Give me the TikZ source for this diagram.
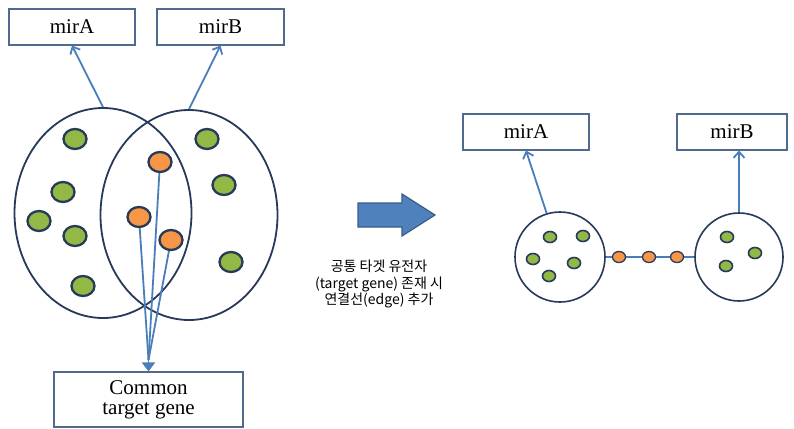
\documentclass[tikz,border=0pt]{standalone}
\usepackage{fontspec}
\setmainfont{Liberation Serif}
\newfontfamily\kr{Noto Sans CJK KR}
\usetikzlibrary{shapes.geometric,arrows.meta}
\definecolor{boxline}{RGB}{80,105,140}
\definecolor{navy}{RGB}{40,58,90}
\definecolor{arrowblue}{RGB}{74,126,187}
\definecolor{dotgreen}{RGB}{146,184,70}
\definecolor{dotorange}{RGB}{247,150,70}
\definecolor{bigfill}{RGB}{79,129,189}
\definecolor{bigedge}{RGB}{56,93,138}
\tikzset{
  labelbox/.style={draw=boxline, line width=1.1pt, fill=white, inner sep=0pt,
    font=\fontsize{21}{20}\selectfont, align=center},
  venn/.style={ellipse, draw=navy, line width=1.8pt, minimum width=177pt, minimum height=210pt, inner sep=0pt},
  ring/.style={circle, draw=navy, line width=1.6pt, inner sep=0pt},
  gdot/.style={ellipse, draw=navy, line width=2.3pt, fill=dotgreen, minimum width=23pt, minimum height=20pt, inner sep=0pt},
  odot/.style={ellipse, draw=navy, line width=2.3pt, fill=dotorange, minimum width=23pt, minimum height=20pt, inner sep=0pt},
  sgdot/.style={ellipse, draw=navy, line width=1.6pt, fill=dotgreen, minimum width=13pt, minimum height=11pt, inner sep=0pt},
  sodot/.style={ellipse, draw=navy, line width=1.3pt, fill=dotorange, minimum width=13pt, minimum height=11pt, inner sep=0pt},
  openarrow/.style={draw=arrowblue, line width=1.8pt, -{Straight Barb[length=6pt,width=11pt]}},
  link/.style={draw=arrowblue, line width=1.8pt}
}
\begin{document}
\begin{tikzpicture}[x=1pt,y=-1pt]
\useasboundingbox (0,0) rectangle (794,428);
\fill[white] (0,0) rectangle (794,428);

% left part
\node[labelbox, minimum width=126pt, minimum height=36pt] (mirA) at (72,27) {mirA};
\node[labelbox, minimum width=127pt, minimum height=36pt] (mirB) at (220.5,27) {mirB};
\node[venn] (ellA) at (103,213) {};
\node[venn] (ellB) at (189,215) {};
\draw[openarrow] (ellA.north) -- (mirA.south);
\draw[openarrow] (ellB.north) -- (mirB.south);

\node[gdot] (g1) at (75,139) {};
\node[gdot] (g2) at (63,192) {};
\node[gdot] (g3) at (39,221) {};
\node[gdot] (g4) at (75,236) {};
\node[gdot] (g5) at (83,286) {};
\node[gdot] (g6) at (207,139) {};
\node[gdot] (g7) at (224,185) {};
\node[gdot] (g8) at (231,262) {};

\node[labelbox, minimum width=189pt, minimum height=55pt] (ctg) at (148.5,399.5) {Common\\target gene};
\coordinate (conv) at (148.5,360);
\draw[link] (160,162) -- (conv);
\draw[link] (139,217) -- (conv);
\draw[link] (171,240) -- (conv);
\node[odot] (o1) at (160,162) {};
\node[odot] (o2) at (139,217) {};
\node[odot] (o3) at (171,240) {};
\draw[draw=arrowblue, line width=1.8pt, -{Triangle[length=9pt,width=13pt]}] (conv) -- (ctg.north);

% big arrow
\draw[fill=bigfill, draw=bigedge, line width=1.2pt]
  (358,203) -- (402,203) -- (402,194) -- (435,215) -- (402,236) -- (402,227) -- (358,227) -- cycle;
\node[font=\kr\fontsize{14}{16.5}\selectfont, align=center, inner sep=0pt] (caption) at (379,284)
  {공통 타겟 유전자\\(target gene) 존재 시\\연결선(edge) 추가};

% right part
\node[labelbox, minimum width=126pt, minimum height=36pt] (mirA2) at (526,132) {mirA};
\node[labelbox, minimum width=110pt, minimum height=36pt] (mirB2) at (732,132) {mirB};
\node[ring, minimum size=90pt] (cA) at (560,257) {};
\node[ring, minimum size=88pt] (cB) at (739,257) {};
\draw[openarrow] (cA.107) -- (mirA2.south);
\draw[openarrow] (cB.north) -- (cB.north |- mirB2.south);
\draw[link, line width=1.4pt] (cA.east) -- (cB.west);
\node[sodot] (p1) at (619,257) {};
\node[sodot] (p2) at (649,257) {};
\node[sodot] (p3) at (677,257) {};

\node[sgdot] (s1) at (550,237) {};
\node[sgdot] (s2) at (583,236) {};
\node[sgdot] (s3) at (533,259) {};
\node[sgdot] (s4) at (549,276) {};
\node[sgdot] (s5) at (574,263) {};
\node[sgdot] (s6) at (727,237) {};
\node[sgdot] (s7) at (755,253) {};
\node[sgdot] (s8) at (726,266) {};
\end{tikzpicture}
\end{document}
